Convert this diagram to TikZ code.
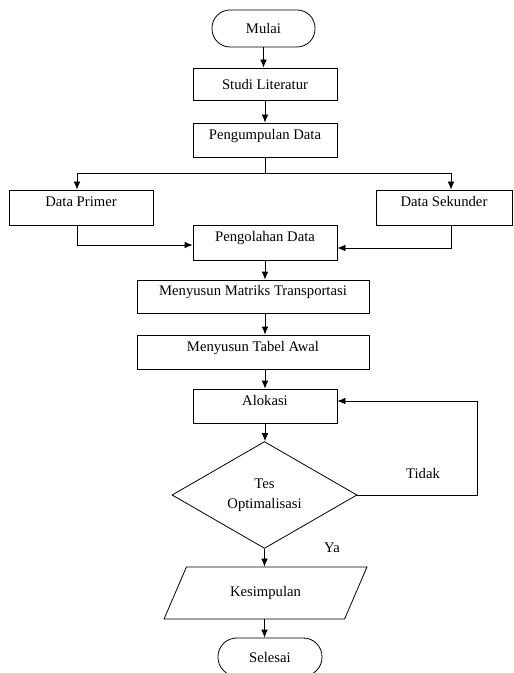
\documentclass[tikz,border=0pt]{standalone}
\usepackage{fontspec}
\setmainfont{Liberation Serif}
\usetikzlibrary{arrows.meta,shapes.geometric,calc}
\begin{document}
\begin{tikzpicture}[x=0.75pt,y=-0.75pt,
  every node/.style={font=\fontsize{11}{13}\selectfont, inner sep=0pt},
  line/.style={line width=0.6pt},
  arr/.style={line width=0.6pt,-{Latex[length=6pt,width=5pt]}},
  box/.style={draw,rectangle,line width=0.6pt},
  up/.style={text height=7pt,text depth=8pt},
  term/.style={draw,rectangle,line width=0.6pt,rounded corners=13.5pt},
  dec/.style={draw,diamond,line width=0.6pt,align=center},
  io/.style={draw,trapezium,trapezium left angle=53,trapezium right angle=127,
    trapezium stretches=true,line width=0.6pt}
]
\useasboundingbox (0,0) rectangle (513,673);

\node[term,minimum width=103*0.75pt,minimum height=37*0.75pt] (mulai) at (263.5,28.5) {Mulai};
\node[box,minimum width=144*0.75pt,minimum height=32*0.75pt] (studi) at (265,84) {Studi Literatur};
\node[box,up,minimum width=144*0.75pt,minimum height=34*0.75pt] (pd) at (265,140) {Pengumpulan Data};
\node[box,up,minimum width=144*0.75pt,minimum height=35*0.75pt] (dp) at (81,207.5) {Data Primer};
\node[box,up,minimum width=136*0.75pt,minimum height=35*0.75pt] (ds) at (444,207.5) {Data Sekunder};
\node[box,up,minimum width=144*0.75pt,minimum height=35*0.75pt] (po) at (265,242.5) {Pengolahan Data};
\node[box,up,minimum width=232*0.75pt,minimum height=33*0.75pt] (mt) at (253,296.5) {Menyusun Matriks Transportasi};
\node[box,up,minimum width=232*0.75pt,minimum height=34*0.75pt] (tb) at (253,352) {Menyusun Tabel Awal};
\node[box,up,minimum width=144*0.75pt,minimum height=34*0.75pt] (al) at (265,406) {Alokasi};
\node[dec,minimum width=185*0.75pt,minimum height=104*0.75pt] (dia) at (264.5,495) {Tes\\[2pt]Optimalisasi};
\node[io,minimum width=204*0.75pt,minimum height=52*0.75pt] (kes) at (265.5,593) {Kesimpulan};
\node[term,minimum width=104*0.75pt,minimum height=38*0.75pt,rounded corners=14pt] (sel) at (270,657) {Selesai};

\node (tidak) at (423,473) {Tidak};
\node (ya) at (332,548) {Ya};

\draw[arr] (mulai.south) -- (mulai.south |- studi.north);
\draw[arr] (studi.south) -- (studi.south |- pd.north);
\draw[line] (pd.south) -- ($(pd.south)+(0,16)$) coordinate (split);
\draw[arr] (split) -| ($(dp.north)+(-4,0)$);
\draw[arr] (split) -| ($(ds.north)+(7,0)$);
\draw[arr] ($(dp.south)+(-4,0)$) |- ($(po.west)+(0,2.5)$);
\draw[arr] ($(ds.south)+(7,0)$) |- ($(po.east)+(0,5.5)$);
\draw[arr] (po.south) -- (po.south |- mt.north);
\draw[arr] (po.south |- mt.south) -- (po.south |- tb.north);
\draw[arr] (al.north |- tb.south) -- (al.north);
\draw[arr] (al.south) -- (al.south |- dia.north);
\draw[arr] (dia.south) -- (dia.south |- kes.north);
\draw[arr] (dia.east) -- ($(dia.east)+(120,0)$) coordinate (fb) |- ($(al.east)+(0,-5)$);
\draw[arr] (dia.south |- kes.south) -- (dia.south |- sel.north);
\end{tikzpicture}
\end{document}
